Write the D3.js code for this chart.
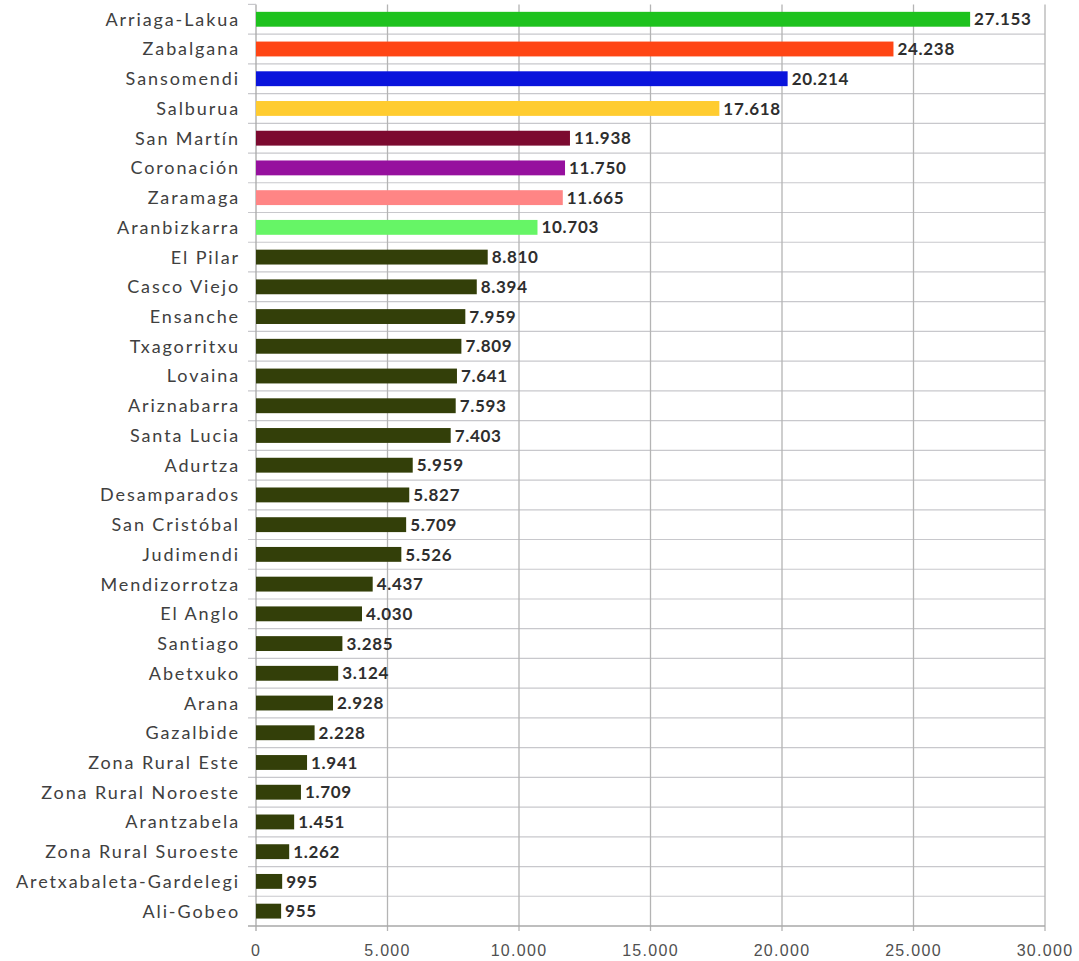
<!DOCTYPE html>
<html><head><meta charset="utf-8">
<script src="https://cdn.jsdelivr.net/npm/d3@7"></script>
<style>body{margin:0;background:#fff}svg{display:block}</style>
</head><body>
<svg id="c" width="1079" height="961"></svg>
<script>
const categories = ["Arriaga-Lakua","Zabalgana","Sansomendi","Salburua","San Martín","Coronación","Zaramaga","Aranbizkarra","El Pilar","Casco Viejo","Ensanche","Txagorritxu","Lovaina","Ariznabarra","Santa Lucia","Adurtza","Desamparados","San Cristóbal","Judimendi","Mendizorrotza","El Anglo","Santiago","Abetxuko","Arana","Gazalbide","Zona Rural Este","Zona Rural Noroeste","Arantzabela","Zona Rural Suroeste","Aretxabaleta-Gardelegi","Ali-Gobeo"];
const values = [27153,24238,20214,17618,11938,11750,11665,10703,8810,8394,7959,7809,7641,7593,7403,5959,5827,5709,5526,4437,4030,3285,3124,2928,2228,1941,1709,1451,1262,995,955];
const barColors = ["#1ec21e","#ff4514","#0a14dc","#ffcc30","#7c0a30","#96109e","#ff8585","#66f566"];
const defaultColor = "#333f09";
const xTicks = [0,5000,10000,15000,20000,25000,30000];

const svg = d3.select("#c");
const m = {l:256, r:1045, t:4.4, b:926};
const x = d3.scaleLinear().domain([0,30000]).range([m.l,m.r]);
const y = d3.scaleBand().domain(categories).range([m.t,m.b]).paddingInner(0.5).paddingOuter(0.25);
const fmt = v => d3.format(",")(v).replace(/,/g,".");

// horizontal gridlines between rows
const step = (m.b-m.t)/categories.length;
const g = svg.append("g");
for(let i=1;i<categories.length;i++){
  g.append("line").attr("x1",m.l-8).attr("x2",m.r).attr("y1",m.t+i*step).attr("y2",m.t+i*step)
   .attr("stroke","#c8c8cc").attr("stroke-width",1.2);
}
// vertical gridlines
svg.append("g").selectAll("line").data(xTicks.slice(1)).join("line")
  .attr("x1",d=>x(d)).attr("x2",d=>x(d)).attr("y1",m.t).attr("y2",m.b+5)
  .attr("stroke","#b4b4b4").attr("stroke-width",1.3);
// axis lines
svg.append("line").attr("x1",m.l).attr("x2",m.l).attr("y1",m.t).attr("y2",m.b+5).attr("stroke","#a8a8a8").attr("stroke-width",1.3);
svg.append("line").attr("x1",m.l-8).attr("x2",m.r).attr("y1",m.b).attr("y2",m.b).attr("stroke","#a8a8a8").attr("stroke-width",1.3);
svg.append("line").attr("x1",m.l-8).attr("x2",m.l).attr("y1",m.t).attr("y2",m.t).attr("stroke","#c8c8cc").attr("stroke-width",1.2);

// bars
svg.append("g").selectAll("rect").data(categories).join("rect")
  .attr("x",x(0)).attr("y",d=>y(d)).attr("height",y.bandwidth())
  .attr("width",(d,i)=>x(values[i])-x(0))
  .attr("fill",(d,i)=>barColors[i]||defaultColor);

// value labels
svg.append("g").selectAll("text").data(categories).join("text")
  .attr("x",(d,i)=>x(values[i])+4).attr("y",d=>y(d)+y.bandwidth()/2)
  .attr("dy","0.36em").attr("font-family","Lato, 'Open Sans', sans-serif")
  .attr("font-weight","bold").attr("font-size",17).attr("letter-spacing",0.7).attr("fill","#2e2e2e")
  .text((d,i)=>fmt(values[i]));

// category labels
svg.append("g").selectAll("text").data(categories).join("text")
  .attr("x",m.l-16).attr("y",d=>y(d)+y.bandwidth()/2)
  .attr("dy","0.36em").attr("text-anchor","end")
  .attr("font-family","Lato, 'Open Sans', sans-serif").attr("font-size",18)
  .attr("letter-spacing",1.9).attr("fill","#404040")
  .text(d=>d);

// x tick labels
svg.append("g").selectAll("text").data(xTicks).join("text")
  .attr("x",d=>x(d)).attr("y",956).attr("text-anchor","middle")
  .attr("font-family","'Liberation Sans', Arial, sans-serif").attr("font-size",16)
  .attr("letter-spacing",1.3).attr("fill","#505050")
  .text(d=>fmt(d));
</script>
</body></html>
